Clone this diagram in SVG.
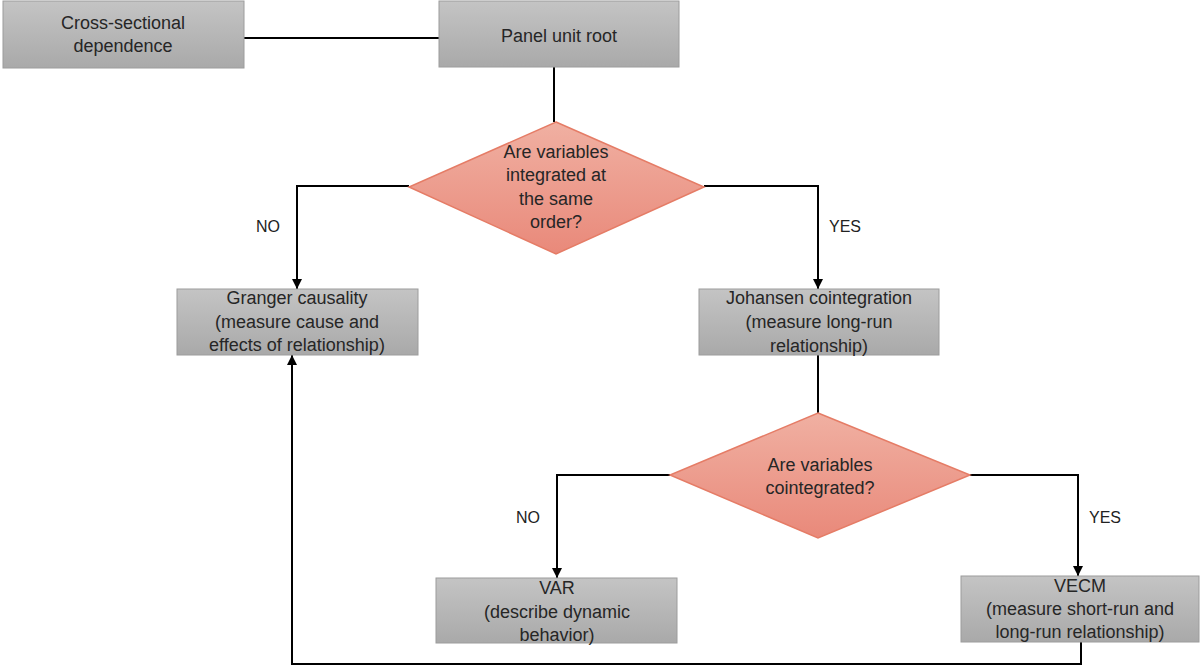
<svg xmlns="http://www.w3.org/2000/svg" width="1201" height="668" viewBox="0 0 1201 668">
<defs>
<linearGradient id="gbox" x1="0" y1="0" x2="0" y2="1">
<stop offset="0" stop-color="#c4c4c4"/>
<stop offset="1" stop-color="#a9a9a9"/>
</linearGradient>
<linearGradient id="gdia" x1="0" y1="0" x2="0" y2="1">
<stop offset="0" stop-color="#f0b0a2"/>
<stop offset="1" stop-color="#e9897a"/>
</linearGradient>
<marker id="arr" viewBox="0 0 10 10" refX="10" refY="5" markerWidth="5" markerHeight="5" orient="auto" markerUnits="strokeWidth">
<path d="M0,0 L10,5 L0,10 z" fill="#000"/>
</marker>
<style>
.box{fill:url(#gbox);stroke:#9c9c9c;stroke-width:1}
.dia{fill:url(#gdia);stroke:#e57c66;stroke-width:1.5}
.t{font-family:"Liberation Sans",Arial,sans-serif;font-size:18px;fill:#262626;text-anchor:middle;dominant-baseline:central}
.c{fill:none;stroke:#000;stroke-width:2}
.ca{fill:none;stroke:#000;stroke-width:2;marker-end:url(#arr)}
.lbl{font-family:"Liberation Sans",Arial,sans-serif;font-size:16px;fill:#222;text-anchor:middle;dominant-baseline:central}
</style>
</defs>
<g id="connectors">
<path class="c" d="M244,38 H439"/>
<path class="c" d="M554,67 V122"/>
<path class="ca" d="M409,186 H297 V289"/>
<path class="ca" d="M704,186 H818 V289"/>
<path class="c" d="M818,355 V413"/>
<path class="ca" d="M670,475 H557 V578"/>
<path class="ca" d="M970,475 H1078 V576"/>
<path class="ca" d="M1081,642 V664 H292 V355"/>
<text class="lbl" x="268" y="226">NO</text>
<text class="lbl" x="845" y="226">YES</text>
<text class="lbl" x="528" y="517">NO</text>
<text class="lbl" x="1105" y="517">YES</text>
</g>
<g id="cross-sectional">
<rect class="box" x="3" y="1" width="241" height="67"/>
<text class="t" x="123" y="23">Cross-sectional</text>
<text class="t" x="123" y="46">dependence</text>
</g>
<g id="panel-unit-root">
<rect class="box" x="439" y="1" width="240" height="66"/>
<text class="t" x="559" y="36">Panel unit root</text>
</g>
<g id="decision-integrated">
<polygon class="dia" points="556,122 704,187 556,254 409,187"/>
<text class="t" x="556" y="152">Are variables</text>
<text class="t" x="556" y="175">integrated at</text>
<text class="t" x="556" y="199">the same</text>
<text class="t" x="556" y="222">order?</text>
</g>
<g id="granger">
<rect class="box" x="177" y="289" width="241" height="66"/>
<text class="t" x="297" y="298">Granger causality</text>
<text class="t" x="297" y="322">(measure cause and</text>
<text class="t" x="297" y="345">effects of relationship)</text>
</g>
<g id="johansen">
<rect class="box" x="699" y="289" width="240" height="66"/>
<text class="t" x="819" y="298">Johansen cointegration</text>
<text class="t" x="819" y="322">(measure long-run</text>
<text class="t" x="819" y="346">relationship)</text>
</g>
<g id="decision-cointegrated">
<polygon class="dia" points="818,413 970,475 818,538 670,475"/>
<text class="t" x="820" y="465">Are variables</text>
<text class="t" x="820" y="488">cointegrated?</text>
</g>
<g id="var">
<rect class="box" x="436" y="578" width="241" height="65"/>
<text class="t" x="557" y="588">VAR</text>
<text class="t" x="557" y="612">(describe dynamic</text>
<text class="t" x="557" y="635">behavior)</text>
</g>
<g id="vecm">
<rect class="box" x="961" y="576" width="238" height="66"/>
<text class="t" x="1080" y="586">VECM</text>
<text class="t" x="1080" y="609">(measure short-run and</text>
<text class="t" x="1080" y="632">long-run relationship)</text>
</g>
</svg>
